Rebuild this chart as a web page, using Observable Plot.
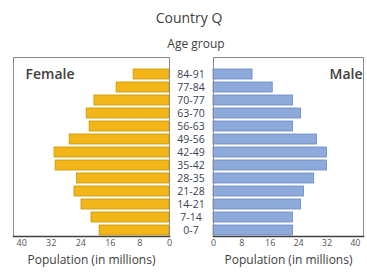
<!DOCTYPE html>
<html><head><meta charset="utf-8">
<script src="https://cdn.jsdelivr.net/npm/d3@7"></script>
<script src="https://cdn.jsdelivr.net/npm/@observablehq/plot@0.6"></script>
<style>
body{margin:0;background:#fff;}
#chart{position:relative;width:367px;height:276px;overflow:hidden;font-family:"Open Sans",sans-serif;background:#fff;}
#chart .t{position:absolute;white-space:nowrap;color:#404040;transform:translateX(-50%);line-height:1.36;}
#chart svg{position:absolute;top:0;}
</style></head><body>
<div id="chart">
<div class="t" style="left:189px;top:8px;font-size:14px;">Country Q</div>
<div class="t" style="left:196px;top:36px;font-size:12px;">Age group</div>
</div>
<script>
const ageGroups = ["84-91","77-84","70-77","63-70","56-63","49-56","42-49","35-42","28-35","21-28","14-21","7-14","0-7"];
const female = [9.7,14.3,20.3,22.4,21.6,27.0,31.1,30.8,25.0,25.7,23.8,21.1,18.9];
const male = [11,16.7,22.4,24.7,22.4,29.2,32,32,28.4,25.5,24.7,22.4,22.4];
const xTicks = [0,8,16,24,32,40];
const xLabel = "Population (in millions)";

const rows = ageGroups.map((a,i)=>({age:a, female:female[i], male:male[i]}));
const font = {fontFamily:"'Open Sans', sans-serif", background:"transparent", overflow:"visible"};
const yOpts = {domain:ageGroups, range:[68,237], paddingInner:0.22, paddingOuter:0, axis:null};

const left = Plot.plot({
  width:213, height:276, marginLeft:13, marginRight:44, marginTop:57, marginBottom:40,
  style:font,
  x:{domain:[0,42.2], reverse:true, axis:null},
  y:yOpts,
  marks:[
    Plot.barX(rows,{x:"female", y:"age", fill:"#f2b619", stroke:"#c99400", strokeWidth:0.8}),
    Plot.frame({stroke:"#8c8c8c"}),
    Plot.frame({anchor:"bottom", stroke:"#404040", strokeWidth:1.5}),
    Plot.axisX({ticks:xTicks, tickSize:0, tickPadding:3, fontSize:9, fill:"#555", label:null}),
    Plot.text([xLabel], {frameAnchor:"bottom", dy:27, fontSize:12, fill:"#404040"}),
    Plot.text(ageGroups, {y:d=>d, frameAnchor:"right", dx:21.5, fontSize:10.5, fill:"#3a3f55", textAnchor:"middle"}),
    Plot.text(["Female"], {frameAnchor:"top-left", dx:12, dy:12, textAnchor:"start", fontSize:14, fontWeight:600, fill:"#404040"})
  ]
});
left.style.left = "0px";

const right = Plot.plot({
  width:167, height:276, marginLeft:13, marginRight:4, marginTop:57, marginBottom:40,
  style:font,
  x:{domain:[0,42.3], axis:null},
  y:yOpts,
  marks:[
    Plot.barX(rows,{x:"male", y:"age", fill:"#8eaadb", stroke:"#6688c4", strokeWidth:0.8}),
    Plot.frame({stroke:"#8c8c8c"}),
    Plot.frame({anchor:"bottom", stroke:"#404040", strokeWidth:1.5}),
    Plot.axisX({ticks:xTicks, tickSize:0, tickPadding:3, fontSize:9, fill:"#555", label:null}),
    Plot.text([xLabel], {frameAnchor:"bottom", dy:27, fontSize:12, fill:"#404040"}),
    Plot.text(["Male"], {frameAnchor:"top-right", dx:-1, dy:12, textAnchor:"end", fontSize:14, fontWeight:600, fill:"#404040"})
  ]
});
right.style.left = "200px";

const chart = document.getElementById("chart");
chart.appendChild(left);
chart.appendChild(right);
</script>
</body></html>
